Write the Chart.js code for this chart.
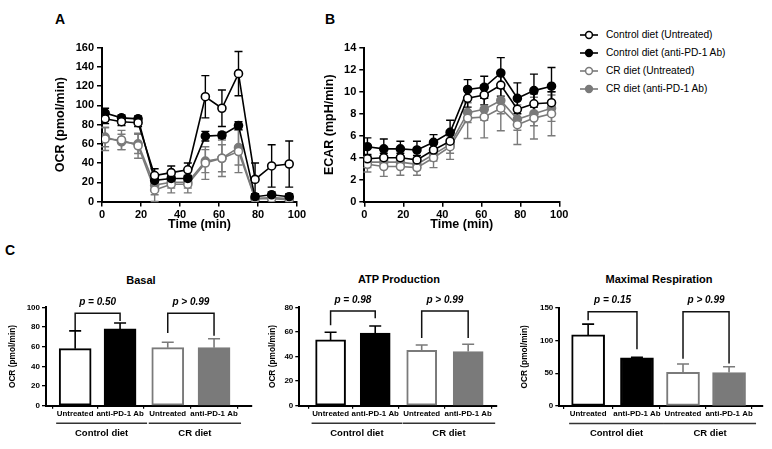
<!DOCTYPE html>
<html>
<head>
<meta charset="utf-8">
<script src="https://cdn.jsdelivr.net/npm/chart.js@4.4.0/dist/chart.umd.min.js"></script>
<style>
  html,body{margin:0;padding:0;background:#fff;}
  body{width:772px;height:449px;position:relative;overflow:hidden;font-family:"Liberation Sans",Arial,Helvetica,sans-serif;color:#000;}
  canvas{position:absolute;}
  .plabel{position:absolute;font-weight:bold;font-size:14px;line-height:16px;}
  .ctitle{position:absolute;width:200px;text-align:center;font-weight:bold;font-size:11px;line-height:13px;}
  .leg{position:absolute;left:580px;height:14px;line-height:14px;font-size:10.2px;white-space:nowrap;}
  .leg svg{position:absolute;left:0;top:2px;}
  .leg span{position:absolute;left:26px;top:0;}
</style>
</head>
<body>
<div class="plabel" style="left:55px;top:11px">A</div>
<div class="plabel" style="left:325px;top:11px">B</div>
<div class="plabel" style="left:5px;top:242px">C</div>
<div id="legend"></div>
<div class="ctitle" style="left:41px;top:274px">Basal</div>
<div class="ctitle" style="left:299px;top:273px">ATP Production</div>
<div class="ctitle" style="left:559px;top:273px">Maximal Respiration</div>
<canvas id="cA"></canvas>
<canvas id="cB"></canvas>
<canvas id="cBasal"></canvas>
<canvas id="cATP"></canvas>
<canvas id="cMax"></canvas>
<script>
// ---------------- DATA ----------------
const times = [1.6, 10, 18.5, 27, 35.5, 44, 53, 61.5, 70, 78.5, 87, 96];
const seriesNames = ['Control diet (Untreated)', 'Control diet (anti-PD-1 Ab)', 'CR diet (Untreated)', 'CR diet (anti-PD-1 Ab)'];

const ocrCtrlUntreated    = [86, 83, 82, 27, 30, 33, 109, 97, 133, 23, 37, 39];
const ocrCtrlUntreatedErr = [5, 4, 4, 7, 7, 7, 22, 19, 23, 17, 22, 24];
const ocrCtrlAnti         = [92, 87, 86, 22, 24, 24, 68, 69, 79, 5, 7, 5];
const ocrCtrlAntiErr      = [5, 3, 3, 4, 3, 3, 5, 3, 4, 3, 3, 3];
const ocrCrUntreated      = [65, 64, 58, 12, 18, 18, 40, 45, 52, 3, 3, 2];
const ocrCrUntreatedErr   = [12, 10, 13, 12, 9, 9, 17, 19, 22, 2, 2, 2];
const ocrCrAnti           = [67, 62, 60, 17, 20, 20, 42, 45, 56, 3, 4, 3];
const ocrCrAntiErr        = [10, 8, 10, 10, 6, 6, 12, 14, 18, 2, 2, 2];

const ecarCtrlUntreated    = [3.9, 4.0, 4.0, 3.8, 4.7, 5.5, 9.4, 9.7, 10.6, 8.4, 8.9, 9.0];
const ecarCtrlUntreatedErr = [0.4, 0.4, 0.4, 0.4, 0.5, 0.6, 0.8, 0.9, 1.0, 0.9, 0.9, 1.0];
const ecarCtrlAnti         = [5.0, 4.8, 4.8, 4.7, 5.4, 6.3, 10.2, 10.4, 11.7, 9.4, 10.1, 10.5];
const ecarCtrlAntiErr      = [0.8, 0.9, 0.7, 0.8, 0.7, 1.1, 0.9, 1.0, 1.4, 1.4, 1.5, 1.7];
const ecarCrUntreated      = [3.4, 3.2, 3.2, 3.1, 4.0, 5.0, 7.6, 7.7, 8.5, 7.0, 7.6, 8.0];
const ecarCrUntreatedErr   = [0.7, 0.9, 0.8, 0.7, 0.9, 1.15, 1.85, 1.9, 2.05, 1.8, 1.9, 2.0];
const ecarCrAnti           = [3.6, 3.6, 3.6, 3.4, 4.3, 5.2, 8.1, 8.4, 9.2, 7.5, 8.0, 8.5];
const ecarCrAntiErr        = [0.5, 0.5, 0.5, 0.5, 0.6, 0.8, 0.9, 1.0, 1.2, 1.0, 1.1, 1.2];

const ocrTicksMax = 160, ocrTickStep = 20;
const ecarTicksMax = 14, ecarTickStep = 2;
const timeTickStep = 20;

const barCategories = ['Untreated', 'anti-PD-1 Ab', 'Untreated', 'anti-PD-1 Ab'];
const dietGroups = ['Control diet', 'CR diet'];

const basalValues = [58, 78, 59, 59];
const basalErr    = [18, 6, 5.5, 9];
const basalP      = ['p = 0.50', 'p > 0.99'];
const basalBracketTop  = [94, 94];
const basalBracketLegs = [[77, 86], [74, 71]];

const atpValues = [53.5, 59, 45, 44];
const atpErr    = [6.2, 5.8, 4.3, 5.9];
const atpP      = ['p = 0.98', 'p > 0.99'];
const atpBracketTop  = [77, 77];
const atpBracketLegs = [[65.5, 71], [55, 55]];

const maxValues = [108.5, 73.5, 51.5, 51];
const maxErr    = [16.5, 1, 12.5, 9];
const maxP      = ['p = 0.15', 'p > 0.99'];
const maxBracketTop  = [144, 144];
const maxBracketLegs = [[131, 86.5], [72, 65]];

// ---------------- STYLE ----------------
const BLACK = '#000000', GRAY = '#7a7a7a';
const FONT = '"Liberation Sans", Arial, Helvetica, sans-serif';
Chart.defaults.font.family = FONT;
Chart.defaults.font.weight = 'bold';
Chart.defaults.color = '#000';
Chart.defaults.animation = false;

const seriesStyles = [
  {line: BLACK, fill: '#ffffff'},
  {line: BLACK, fill: BLACK},
  {line: GRAY,  fill: '#ffffff'},
  {line: GRAY,  fill: GRAY}
];

// legend (HTML)
(function(){
  const lg = document.getElementById('legend');
  const rowsY = [28, 46, 64, 82];
  seriesNames.forEach((n, i) => {
    const st = seriesStyles[i];
    const d = document.createElement('div');
    d.className = 'leg';
    d.style.top = rowsY[i] + 'px';
    d.innerHTML = '<svg width="18" height="10"><line x1="0" y1="5" x2="18" y2="5" stroke="' + st.line +
      '" stroke-width="1.6"/><circle cx="9" cy="5" r="3.4" fill="' + st.fill + '" stroke="' + st.line +
      '" stroke-width="1.5"/></svg><span>' + n + '</span>';
    lg.appendChild(d);
  });
})();

function boxLayout(id, box, area) {
  const cv = document.getElementById(id);
  cv.width = box.w; cv.height = box.h;
  cv.style.left = box.left + 'px'; cv.style.top = box.top + 'px';
  cv.style.width = box.w + 'px'; cv.style.height = box.h + 'px';
  return {
    cv: cv,
    padding: {left: 0, bottom: 0, top: area.t - box.top, right: box.left + box.w - area.r},
    yw: area.l - box.left,
    xh: box.top + box.h - area.b
  };
}

const lineErrPlugin = {
  id: 'lineErr',
  beforeDatasetsDraw(chart) {
    const ctx = chart.ctx, y = chart.scales.y;
    for (let d = chart.data.datasets.length - 1; d >= 0; d--) {
      const ds = chart.data.datasets[d];
      const meta = chart.getDatasetMeta(d);
      ctx.save();
      ctx.strokeStyle = ds.errColor;
      ctx.lineWidth = 1.4;
      meta.data.forEach((pt, i) => {
        const v = ds.data[i].y, e = ds.err[i];
        const y1 = y.getPixelForValue(v + e), y2 = y.getPixelForValue(Math.max(0, v - e));
        ctx.beginPath();
        ctx.moveTo(pt.x, y1); ctx.lineTo(pt.x, y2);
        ctx.moveTo(pt.x - 4, y1); ctx.lineTo(pt.x + 4, y1);
        ctx.moveTo(pt.x - 4, y2); ctx.lineTo(pt.x + 4, y2);
        ctx.stroke();
      });
      ctx.restore();
    }
  }
};

function axisBase() {
  return {
    grid: {drawOnChartArea: false, drawTicks: true, tickLength: 5, color: '#000', lineWidth: 1.5},
    border: {display: true, color: '#000', width: 2}
  };
}

function makeLineChart(id, box, area, seriesVals, seriesErr, yMax, yStep, yTitle, yTitlePad) {
  const L = boxLayout(id, box, area);
  const datasets = seriesVals.map((vals, i) => ({
    label: seriesNames[i],
    data: times.map((t, k) => ({x: t, y: vals[k]})),
    err: seriesErr[i],
    errColor: seriesStyles[i].line,
    borderColor: seriesStyles[i].line,
    backgroundColor: seriesStyles[i].fill,
    pointBackgroundColor: seriesStyles[i].fill,
    pointBorderColor: seriesStyles[i].line,
    pointRadius: 4,
    pointBorderWidth: 1.6,
    borderWidth: 1.6,
    tension: 0,
    fill: false
  }));
  return new Chart(L.cv, {
    type: 'line',
    data: {datasets},
    options: {
      responsive: false, animation: false, devicePixelRatio: 1,
      layout: {padding: L.padding},
      plugins: {legend: {display: false}, tooltip: {enabled: false}},
      scales: {
        x: Object.assign(axisBase(), {
          type: 'linear', min: 0, max: 100,
          ticks: {stepSize: timeTickStep, font: {size: 11, weight: 'bold'}, color: '#000', padding: 2, maxRotation: 0},
          title: {display: true, text: 'Time (min)', font: {size: 12.5, weight: 'bold'}, color: '#000', padding: {top: 0, bottom: 7.5}},
          afterFit(s) { s.height = L.xh; s.paddingLeft = 0; s.paddingRight = 0; }
        }),
        y: Object.assign(axisBase(), {
          min: 0, max: yMax,
          ticks: {stepSize: yStep, font: {size: 11, weight: 'bold'}, color: '#000', padding: 3},
          title: {display: true, text: yTitle, font: {size: 12.5, weight: 'bold'}, color: '#000', padding: {top: yTitlePad, bottom: 0}},
          afterFit(s) { s.width = L.yw; s.paddingTop = 0; s.paddingBottom = 0; }
        })
      }
    },
    plugins: [lineErrPlugin]
  });
}

makeLineChart('cA', {left: 40, top: 0, w: 270, h: 240}, {l: 102, t: 47.7, r: 297, b: 201.5},
  [ocrCtrlUntreated, ocrCtrlAnti, ocrCrUntreated, ocrCrAnti],
  [ocrCtrlUntreatedErr, ocrCtrlAntiErr, ocrCrUntreatedErr, ocrCrAntiErr],
  ocrTicksMax, ocrTickStep, 'OCR (pmol/min)', 13.5);

makeLineChart('cB', {left: 310, top: 0, w: 262, h: 240}, {l: 364.3, t: 47.7, r: 559.3, b: 201.7},
  [ecarCtrlUntreated, ecarCtrlAnti, ecarCrUntreated, ecarCrAnti],
  [ecarCtrlUntreatedErr, ecarCtrlAntiErr, ecarCrUntreatedErr, ecarCrAntiErr],
  ecarTicksMax, ecarTickStep, 'ECAR (mpH/min)', 12.5);

// --------------- BAR CHARTS ---------------
const barFill   = ['#ffffff', BLACK, '#ffffff', GRAY];
const barBorder = [BLACK, BLACK, GRAY, GRAY];

function makeBarChart(id, box, area, pos, xMax, barW, values, errs, yMax, yStep, pTexts, bTop, bLegs, yTitlePad) {
  const L = boxLayout(id, box, area);
  const extras = {
    id: 'barExtras_' + id,
    afterDatasetsDraw(chart) {
      const ctx = chart.ctx, y = chart.scales.y;
      const meta = chart.getDatasetMeta(0);
      // error bars (upward)
      meta.data.forEach((bar, i) => {
        const top = y.getPixelForValue(values[i] + errs[i]);
        ctx.save();
        ctx.strokeStyle = barBorder[i];
        ctx.lineWidth = 1.6;
        ctx.beginPath();
        ctx.moveTo(bar.x, bar.y); ctx.lineTo(bar.x, top);
        ctx.moveTo(bar.x - 6, top); ctx.lineTo(bar.x + 6, top);
        ctx.stroke();
        ctx.restore();
      });
      // brackets and p-values
      [[0, 1], [2, 3]].forEach((pair, g) => {
        const xa = meta.data[pair[0]].x, xb = meta.data[pair[1]].x;
        const yt = y.getPixelForValue(bTop[g]);
        ctx.save();
        ctx.strokeStyle = '#111';
        ctx.lineWidth = 1.5;
        ctx.beginPath();
        ctx.moveTo(xa, y.getPixelForValue(bLegs[g][0]));
        ctx.lineTo(xa, yt);
        ctx.lineTo(xb, yt);
        ctx.lineTo(xb, y.getPixelForValue(bLegs[g][1]));
        ctx.stroke();
        ctx.fillStyle = '#000';
        ctx.font = 'italic bold 10px ' + FONT;
        ctx.textAlign = 'center';
        ctx.textBaseline = 'middle';
        ctx.fillText(pTexts[g], (xa + xb) / 2, yt - 11);
        ctx.restore();
      });
    },
    afterDraw(chart) {
      const ctx = chart.ctx;
      const meta = chart.getDatasetMeta(0);
      const base = chart.chartArea.bottom;
      [[0, 1], [2, 3]].forEach((pair, g) => {
        const x0 = meta.data[pair[0]].x - 19, x1 = meta.data[pair[1]].x + 27;
        ctx.save();
        ctx.strokeStyle = '#333';
        ctx.lineWidth = 1.4;
        ctx.beginPath();
        ctx.moveTo(x0, base + 17.5); ctx.lineTo(x1, base + 17.5);
        ctx.stroke();
        ctx.fillStyle = '#000';
        ctx.font = 'bold 9.5px ' + FONT;
        ctx.textAlign = 'center';
        ctx.textBaseline = 'middle';
        ctx.fillText(dietGroups[g], (x0 + x1) / 2, base + 27.5);
        ctx.restore();
      });
    }
  };
  return new Chart(L.cv, {
    type: 'bar',
    data: {
      datasets: [{
        data: values.map((v, i) => ({x: pos[i], y: v})),
        backgroundColor: barFill,
        borderColor: barBorder,
        borderWidth: 2,
        borderSkipped: false,
        barThickness: barW
      }]
    },
    options: {
      responsive: false, animation: false, devicePixelRatio: 1,
      layout: {padding: L.padding},
      plugins: {legend: {display: false}, tooltip: {enabled: false}},
      scales: {
        x: Object.assign(axisBase(), {
          type: 'linear', min: 0, max: xMax, offset: false,
          grid: {drawOnChartArea: false, drawTicks: true, tickLength: 3, color: '#000', lineWidth: 1.2},
          afterBuildTicks(s) { s.ticks = pos.map(v => ({value: v})); },
          ticks: {
            autoSkip: false, maxRotation: 0, minRotation: 0, padding: 0,
            font: {size: 7.9, weight: 'bold'}, color: '#000',
            callback: (v, i) => barCategories[i]
          },
          afterFit(s) { s.height = L.xh; s.paddingLeft = 0; s.paddingRight = 0; }
        }),
        y: Object.assign(axisBase(), {
          min: 0, max: yMax,
          grid: {drawOnChartArea: false, drawTicks: true, tickLength: 4, color: '#000', lineWidth: 1.3},
          ticks: {stepSize: yStep, font: {size: 8, weight: 'bold'}, color: '#000', padding: 2},
          title: {display: true, text: 'OCR (pmol/min)', font: {size: 8.3, weight: 'bold'}, color: '#000', padding: {top: yTitlePad, bottom: 0}},
          afterFit(s) { s.width = L.yw; s.paddingTop = 0; s.paddingBottom = 0; }
        })
      }
    },
    plugins: [extras]
  });
}

makeBarChart('cBasal', {left: 0, top: 255, w: 258, h: 194}, {l: 46, t: 307.3, r: 252, b: 405.7},
  [0.63, 1.6, 2.63, 3.63], 4.45, 32, basalValues, basalErr, 100, 20, basalP, basalBracketTop, basalBracketLegs, 8.0);

makeBarChart('cATP', {left: 258, top: 255, w: 254, h: 194}, {l: 299.3, t: 307.3, r: 496.7, b: 405.7},
  [0.68, 1.65, 2.66, 3.67], 4.29, 30, atpValues, atpErr, 80, 20, atpP, atpBracketTop, atpBracketLegs, 9.7);

makeBarChart('cMax', {left: 512, top: 255, w: 260, h: 194}, {l: 559.3, t: 307.7, r: 763, b: 406},
  [0.62, 1.67, 2.66, 3.65], 4.38, 33, maxValues, maxErr, 150, 50, maxP, maxBracketTop, maxBracketLegs, 8.0);
</script>
</body>
</html>
